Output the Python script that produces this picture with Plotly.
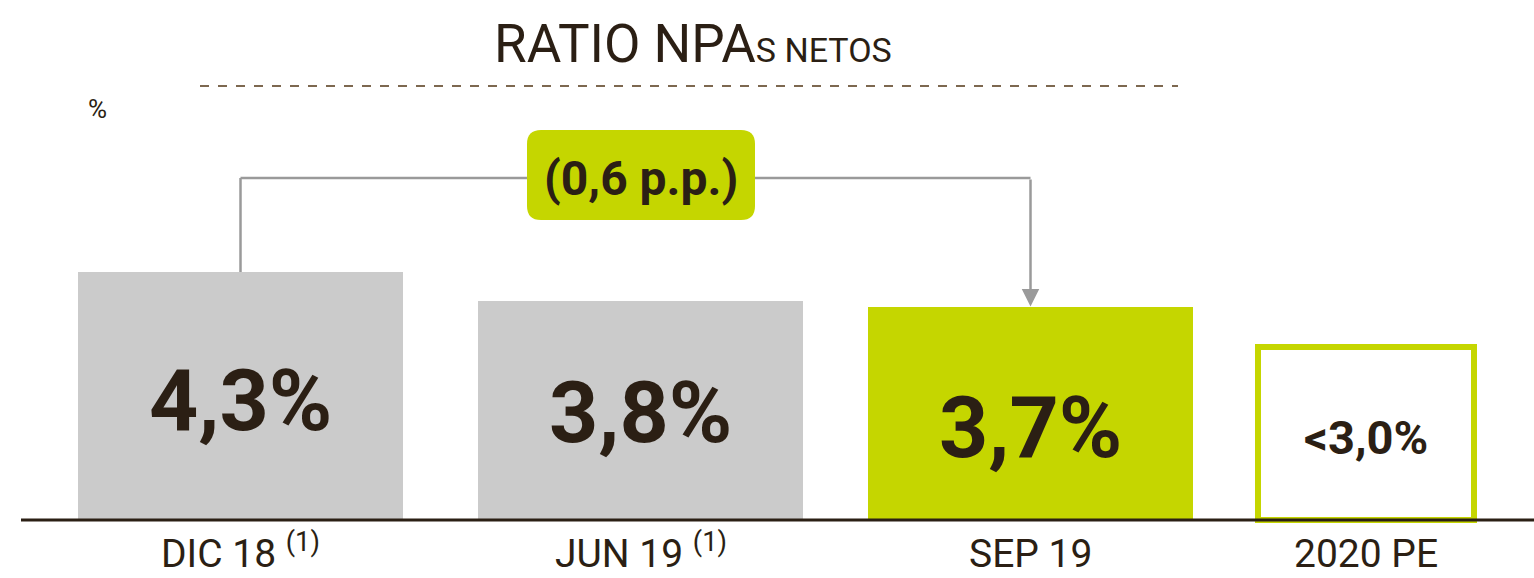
import plotly.graph_objects as go

# Net NPA ratio by period
periods = ["DIC 18", "JUN 19", "SEP 19", "2020 PE"]
notes = ["(1)", "(1)", "", ""]
ratios = [4.3, 3.8, 3.7, 3.0]
labels = ["4,3%", "3,8%", "3,7%", "<3,0%"]
change_label = "(0,6 p.p.)"

# layout constants (pixel-based x axis; baseline sits 520 px from the top)
W, H = 1534, 578
BASE = 520
PX_PER_UNIT = 57.67

centers = [240.5, 640.5, 1030.5, 1366]
widths = [325, 325, 325, 216]

GRAY = "#cbcbcb"
GREEN = "#c5d600"
DARK = "#2b1f14"
FONT = "Roboto, 'Open Sans', sans-serif"


def py(p):
    """pixel row -> data y"""
    return (BASE - p) / PX_PER_UNIT


fig = go.Figure()

fills = [GRAY, GRAY, GREEN, "white"]
lines = [GRAY, GRAY, GREEN, GREEN]
lws = [0, 0, 0, 6]
fig.add_trace(go.Bar(
    x=centers, y=ratios, width=widths,
    marker=dict(color=fills, line=dict(color=lines, width=lws)),
    hoverinfo="skip", showlegend=False,
))

# value labels inside bars
label_rows = [400, 412, 427, 437]
label_sizes = [86, 86, 86, 47]
for cx, txt, r, s in zip(centers, labels, label_rows, label_sizes):
    fig.add_annotation(x=cx, y=py(r), text=f"<b>{txt}</b>", showarrow=False,
                       font=dict(family=FONT, size=s, color=DARK),
                       xanchor="center", yanchor="middle")

# category labels under the axis, bottom-anchored so they stay inside the page
for cx, p, n in zip(centers, periods, notes):
    t = p if not n else f"{p} <sup>{n}</sup>"
    fig.add_annotation(x=cx, y=0, yref="paper", text=t, showarrow=False,
                       font=dict(family=FONT, size=39, color=DARK),
                       xanchor="center", yanchor="bottom", borderpad=0)

# baseline
fig.add_shape(type="line", x0=21, x1=W, y0=0, y1=0,
              line=dict(color=DARK, width=3), layer="above")

# title and dotted rule
fig.add_annotation(x=693, y=py(44), showarrow=False,
                   text="RATIO NPA<span style='font-size:34px'>S NETOS</span>",
                   font=dict(family=FONT, size=53, color=DARK),
                   xanchor="center", yanchor="middle")
fig.add_shape(type="line", x0=200, x1=1178, y0=py(86), y1=py(86),
              line=dict(color="#7d6850", width=2, dash="dash"))

fig.add_annotation(x=97, y=py(109), text="%", showarrow=False,
                   font=dict(family=FONT, size=26, color=DARK),
                   xanchor="center", yanchor="middle")

# change bracket from first bar to third bar
BRACKET_Y = py(178)
BR = "#9a9a9a"
fig.add_shape(type="line", x0=centers[0], x1=centers[0], y0=ratios[0], y1=BRACKET_Y,
              line=dict(color=BR, width=2.5))
fig.add_shape(type="line", x0=centers[0], x1=centers[2], y0=BRACKET_Y, y1=BRACKET_Y,
              line=dict(color=BR, width=2.5))
fig.add_annotation(x=centers[2], y=ratios[2], ax=centers[2], ay=BRACKET_Y,
                   xref="x", yref="y", axref="x", ayref="y", text="",
                   showarrow=True, arrowhead=2, arrowsize=1.4, arrowwidth=2.5,
                   arrowcolor=BR)

# rounded green badge
x0, x1, t0, t1, r = 527, 755, 130, 220, 14
y0, y1 = py(t1), py(t0)
ry = r / PX_PER_UNIT
path = (f"M {x0 + r},{y1} L {x1 - r},{y1} Q {x1},{y1} {x1},{y1 - ry} "
        f"L {x1},{y0 + ry} Q {x1},{y0} {x1 - r},{y0} L {x0 + r},{y0} "
        f"Q {x0},{y0} {x0},{y0 + ry} L {x0},{y1 - ry} Q {x0},{y1} {x0 + r},{y1} Z")
fig.add_shape(type="path", path=path, fillcolor=GREEN, line=dict(width=0), layer="above")
fig.add_annotation(x=(x0 + x1) / 2, y=py(178), text=f"<b>{change_label}</b>",
                   showarrow=False, font=dict(family=FONT, size=48, color=DARK),
                   xanchor="center", yanchor="middle")

fig.update_layout(
    width=W, height=H,
    margin=dict(l=0, r=0, t=0, b=0),
    plot_bgcolor="white", paper_bgcolor="white",
    xaxis=dict(range=[0, W], visible=False, fixedrange=True),
    yaxis=dict(range=[py(H), py(0)], visible=False, fixedrange=True),
    bargap=0,
)

fig.write_html("out.html", config={"displayModeBar": False})
